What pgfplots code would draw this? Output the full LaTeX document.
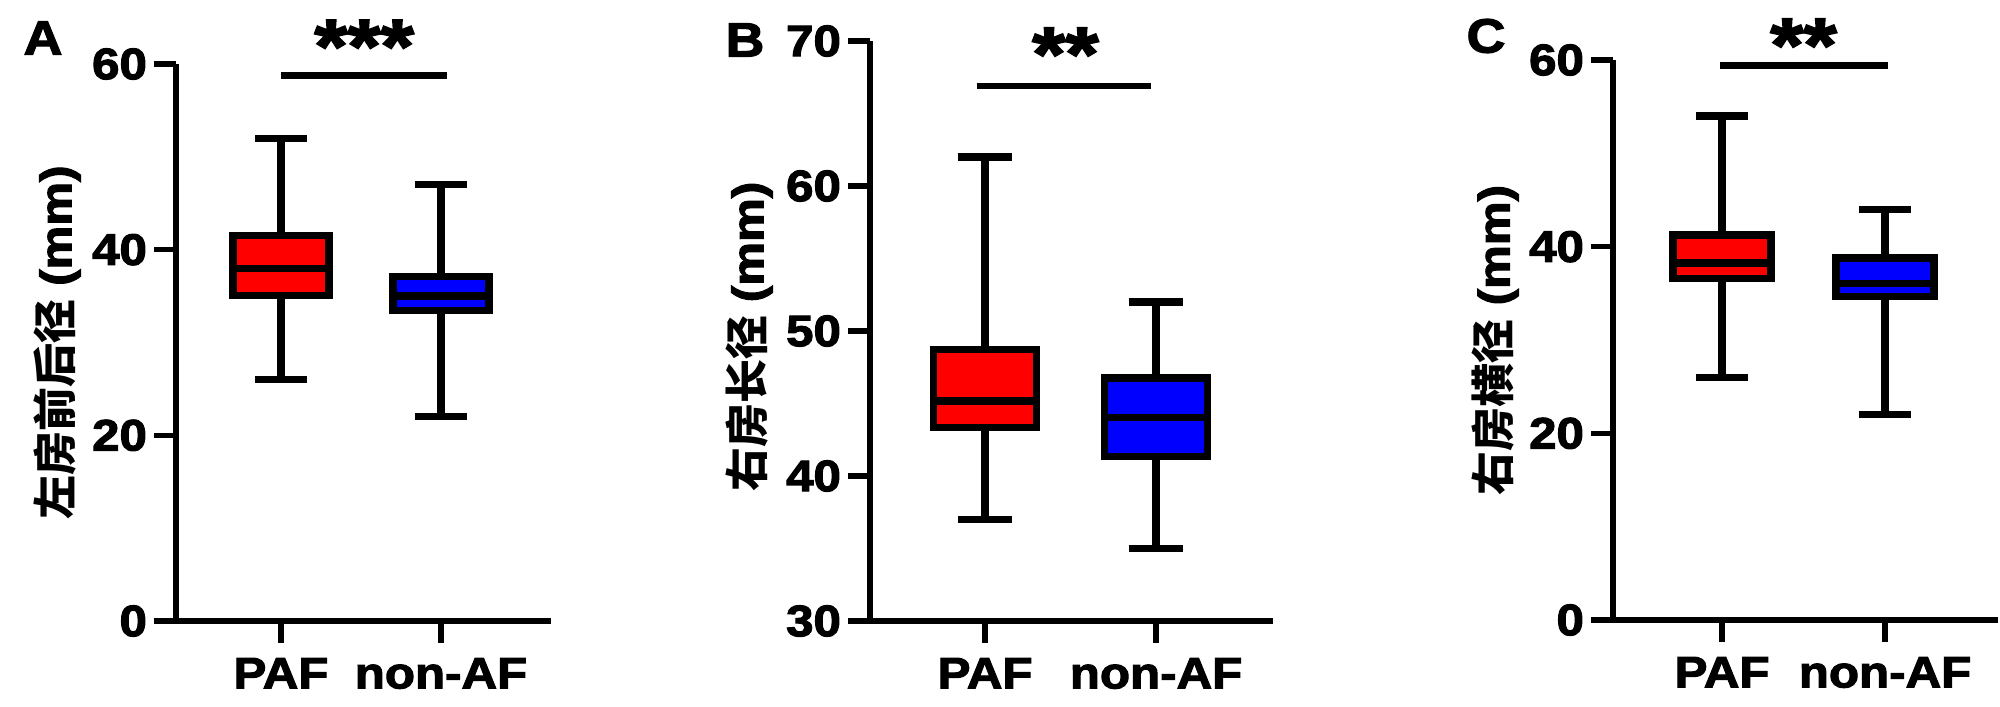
\documentclass[border=0pt]{standalone}
\usepackage{fontspec}
\setmainfont{Liberation Sans}[BoldFeatures={FakeBold=2.5,FakeStretch=1.12}]
\newfontfamily\cjk{Noto Sans CJK SC}
\usepackage{pgfplots}
\pgfplotsset{compat=1.18}

\pgfplotsset{
  panel/.style={
    scale only axis, anchor=south west,
    axis lines=left,
    axis line style={-, line width=2.6pt, black},
    tick style={line width=2.6pt, black},
    major tick length=11pt, tick align=outside,
    xtick={1,2}, xticklabels={PAF,non-AF},
    /pgf/number format/assume math mode=true,
    ticklabel style={font=\fontsize{22}{22}\selectfont\bfseries},
    xticklabel style={yshift=-4pt},
    ylabel style={anchor=center, font=\fontsize{22}{22}\selectfont\bfseries},
    clip=false,
  },
  bw/.style={black, line width=3.7pt, mark=none, line join=miter, line cap=butt},
  sig/.style={black, line width=3.4pt, mark=none},
}

% box: #1 position, #2 lower whisker, #3 lower quartile, #4 median,
%      #5 upper quartile, #6 upper whisker, #7 colour
\newcommand\bxp[7]{%
  \pgfmathsetmacro\bxl{#1-0.30}\pgfmathsetmacro\bxr{#1+0.30}%
  \pgfmathsetmacro\cpl{#1-0.16}\pgfmathsetmacro\cpr{#1+0.16}%
  \addplot[bw] coordinates {(#1,#2) (#1,#3)};
  \addplot[bw] coordinates {(#1,#5) (#1,#6)};
  \addplot[bw] coordinates {(\cpl,#2) (\cpr,#2)};
  \addplot[bw] coordinates {(\cpl,#6) (\cpr,#6)};
  \addplot[bw, fill=#7] coordinates {(\bxl,#3) (\bxr,#3) (\bxr,#5) (\bxl,#5)} -- cycle;
  \addplot[bw] coordinates {(\bxl,#4) (\bxr,#4)};
}

\begin{document}
\begin{tikzpicture}
\useasboundingbox (0,0) rectangle (1000pt,353pt);

% Panel labels
\node[font=\fontsize{24}{24}\selectfont\bfseries] at (21.5pt,334pt) {A};
\node[font=\fontsize{24}{24}\selectfont\bfseries] at (372.5pt,333pt) {B};
\node[font=\fontsize{24}{24}\selectfont\bfseries] at (743pt,335pt) {C};

% ---------------- Panel A ----------------
\begin{axis}[panel, at={(88pt,42.5pt)}, width=187.5pt, height=278.5pt,
  xmin=0.344, xmax=2.6875, ymin=0, ymax=60, ytick={0,20,40,60},
  ylabel={{\cjk\bfseries 左房前后径} (mm)},
  ylabel style={at={(axis description cs:-0.317,0.5)}}]
\bxp{1}{26}{35.06}{37.95}{41.5}{52}{red}
\bxp{2}{22}{33.43}{34.99}{37.13}{47}{blue}
\addplot[sig] coordinates {(1.0,58.8) (2.04,58.8)};
\node[anchor=base, font=\fontsize{38}{38}\selectfont\bfseries] at (axis cs:1.52,59.1) {***};
\end{axis}

% ---------------- Panel B ----------------
\begin{axis}[panel, at={(435pt,42.5pt)}, width=201.5pt, height=290pt,
  xmin=0.327, xmax=2.684, ymin=30, ymax=70, ytick={30,40,50,60,70},
  ylabel={{\cjk\bfseries 右房长径} (mm)},
  ylabel style={at={(axis description cs:-0.30,0.49)}}]
\bxp{1}{37}{43.36}{45.17}{48.71}{62}{red}
\bxp{2}{35}{41.36}{44.05}{46.76}{52}{blue}
\addplot[sig] coordinates {(0.95,66.9) (1.97,66.9)};
\node[anchor=base, font=\fontsize{38}{38}\selectfont\bfseries] at (axis cs:1.47,67.3) {**};
\end{axis}

% ---------------- Panel C ----------------
\begin{axis}[panel, at={(806.5pt,43pt)}, width=192.5pt, height=280pt,
  xmin=0.331, xmax=2.693, ymin=0, ymax=60, ytick={0,20,40,60},
  ylabel={{\cjk\bfseries 右房横径} (mm)},
  ylabel style={at={(axis description cs:-0.306,0.5)}}]
\bxp{1}{26}{36.62}{38.23}{41.23}{54}{red}
\bxp{2}{22}{34.69}{36.08}{38.8}{44}{blue}
\addplot[sig] coordinates {(0.99,59.4) (2.02,59.4)};
\node[anchor=base, font=\fontsize{38}{38}\selectfont\bfseries] at (axis cs:1.50,58.8) {**};
\end{axis}
\end{tikzpicture}
\end{document}
